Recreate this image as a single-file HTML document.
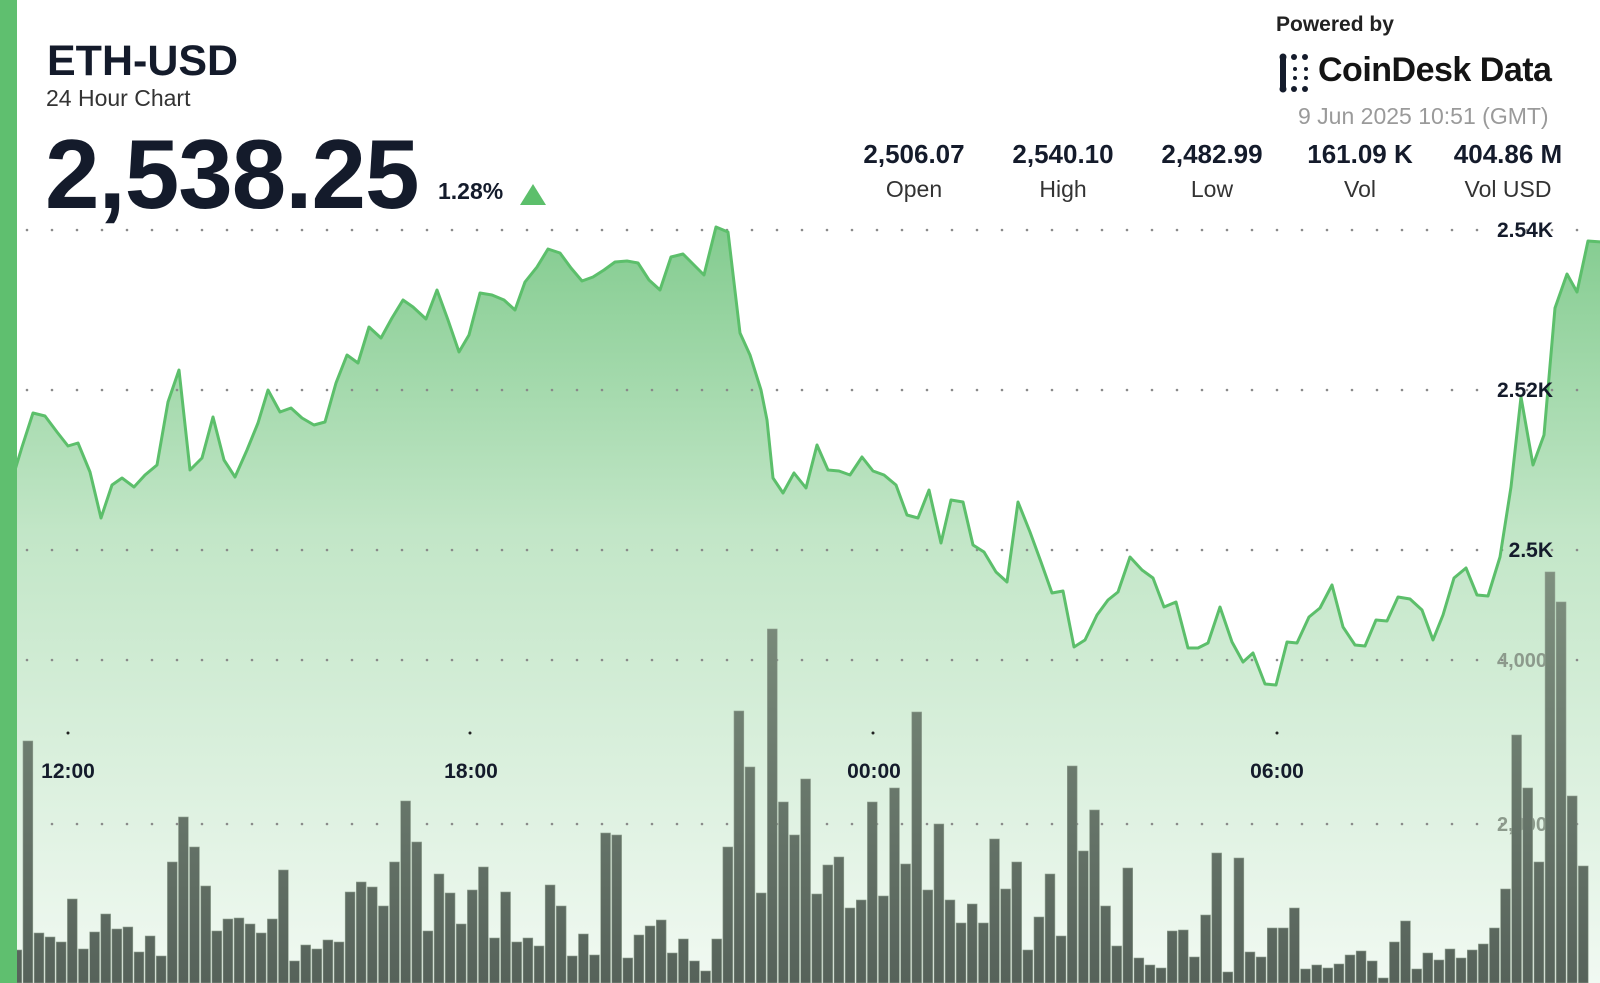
<!DOCTYPE html>
<html><head><meta charset="utf-8">
<style>
html,body{margin:0;padding:0;background:#fff;}
body{width:1600px;height:983px;overflow:hidden;position:relative;font-family:"Liberation Sans",sans-serif;color:#141b2b;}
.t{position:absolute;white-space:nowrap;}
</style></head><body>
<svg id="s" width="1600" height="983" style="position:absolute;left:0;top:0">
<defs>
<linearGradient id="ag" gradientUnits="userSpaceOnUse" x1="0" y1="230" x2="0" y2="983">
<stop offset="0" stop-color="#84cc90"/>
<stop offset="0.4" stop-color="#c2e6c7"/>
<stop offset="1" stop-color="#f1f9f2"/>
</linearGradient>
<linearGradient id="bg" gradientUnits="userSpaceOnUse" x1="0" y1="570" x2="0" y2="983">
<stop offset="0" stop-color="#7e907f"/>
<stop offset="1" stop-color="#56625a"/>
</linearGradient>
</defs>
<path id="area" fill="url(#ag)" stroke="none"/>
<g id="grid"></g>
<path id="line" fill="none" stroke="#5cbf6b" stroke-width="3" stroke-linejoin="round"/>
<text x="1522" y="667" text-anchor="middle" font-family="Liberation Sans" font-weight="bold" font-size="20" fill="#8c9a8c">4,000</text>
<text x="1522" y="831" text-anchor="middle" font-family="Liberation Sans" font-weight="bold" font-size="20" fill="#8c9a8c">2,000</text>
<g id="bars"></g>
<rect x="0" y="0" width="17" height="983" fill="#5fbf6f"/>
<g font-family="Liberation Sans" font-weight="bold" font-size="21" fill="#141b2b" text-anchor="end">
<text x="1553" y="237">2.54K</text>
<text x="1553" y="397">2.52K</text>
<text x="1553" y="557">2.5K</text>
</g>
<g font-family="Liberation Sans" font-weight="bold" font-size="21" fill="#141b2b" text-anchor="middle">
<text x="68" y="778">12:00</text>
<text x="471" y="778">18:00</text>
<text x="874" y="778">00:00</text>
<text x="1277" y="778">06:00</text>
</g>
<g fill="#222">
<circle cx="68" cy="733" r="1.5"/><circle cx="470" cy="733" r="1.5"/><circle cx="873" cy="733" r="1.5"/><circle cx="1277" cy="733" r="1.5"/>
</g>
<polygon points="520,205 546,205 533,184" fill="#5cbf6b"/>
<g fill="#141b2b">
<rect x="1280" y="56" width="6" height="34" rx="3"/>
<circle cx="1283" cy="57" r="3.5"/><circle cx="1283" cy="89" r="3.5"/>
<circle cx="1294" cy="57" r="3"/><circle cx="1305" cy="57" r="3"/>
<circle cx="1294" cy="89" r="3"/><circle cx="1305" cy="89" r="3"/>
<circle cx="1295" cy="69" r="2"/><circle cx="1295" cy="78" r="2"/>
<circle cx="1306" cy="69" r="2"/><circle cx="1306" cy="78" r="2"/>
</g>
</svg>

<div class="t" style="left:47px;top:37px;font-size:43px;font-weight:bold;">ETH-USD</div>
<div class="t" style="left:46px;top:85px;font-size:23px;color:#333;">24 Hour Chart</div>
<div class="t" style="left:45px;top:118px;font-size:98px;font-weight:bold;letter-spacing:-1px;">2,538.25</div>
<div class="t" style="left:438px;top:178px;font-size:23px;font-weight:bold;">1.28%</div>

<div class="t" style="left:1276px;top:13px;font-size:21px;font-weight:bold;color:#222;">Powered by</div>
<div class="t" style="left:1318px;top:51px;font-size:34px;font-weight:bold;color:#141414;letter-spacing:-0.5px;">CoinDesk Data</div>
<div class="t" style="left:1298px;top:103px;font-size:23px;color:#9a9a9a;">9 Jun 2025 10:51 (GMT)</div>

<div class="t" style="left:849px;top:139px;width:130px;text-align:center;font-size:26px;font-weight:bold;">2,506.07</div>
<div class="t" style="left:849px;top:176px;width:130px;text-align:center;font-size:23px;color:#333;">Open</div>
<div class="t" style="left:998px;top:139px;width:130px;text-align:center;font-size:26px;font-weight:bold;">2,540.10</div>
<div class="t" style="left:998px;top:176px;width:130px;text-align:center;font-size:23px;color:#333;">High</div>
<div class="t" style="left:1147px;top:139px;width:130px;text-align:center;font-size:26px;font-weight:bold;">2,482.99</div>
<div class="t" style="left:1147px;top:176px;width:130px;text-align:center;font-size:23px;color:#333;">Low</div>
<div class="t" style="left:1295px;top:139px;width:130px;text-align:center;font-size:26px;font-weight:bold;">161.09 K</div>
<div class="t" style="left:1295px;top:176px;width:130px;text-align:center;font-size:23px;color:#333;">Vol</div>
<div class="t" style="left:1443px;top:139px;width:130px;text-align:center;font-size:26px;font-weight:bold;">404.86 M</div>
<div class="t" style="left:1443px;top:176px;width:130px;text-align:center;font-size:23px;color:#333;">Vol USD</div>

<script>
var NS="http://www.w3.org/2000/svg";
var g=document.getElementById("grid");
[230,390,550,660,824].forEach(function(y){
 for(var x=27;x<1600;x+=25){var c=document.createElementNS(NS,"circle");c.setAttribute("cx",x);c.setAttribute("cy",y);c.setAttribute("r","1.3");c.setAttribute("fill","#8a8a8a");g.appendChild(c);}
});
var pts=[[15,470],[22,447],[33,413],[45,416],[57,432],[68,446],[78,443],[90,472],[101,518],[112,485],[122,478],[134,487],[145,475],[157,465],[168,402],[179,370],[190,470],[202,458],[213,417],[224,460],[235,477],[247,450],[258,423],[268,390],[280,412],[291,408],[302,418],[314,425],[325,422],[336,383],[347,355],[358,363],[369,327],[381,338],[392,318],[403,300],[413,307],[426,319],[437,290],[448,320],[459,352],[469,335],[480,293],[492,295],[504,300],[515,310],[525,282],[537,267],[548,249],[560,253],[571,268],[582,281],[593,277],[604,270],[615,262],[627,261],[638,263],[649,280],[660,290],[671,257],[683,254],[693,264],[704,275],[716,227],[728,232],[740,333],[750,355],[761,390],[767,420],[773,478],[783,493],[794,473],[806,488],[817,445],[828,470],[839,471],[850,475],[862,457],[873,471],[884,475],[896,485],[907,515],[918,518],[929,490],[941,543],[951,500],[963,502],[973,545],[984,552],[996,572],[1007,582],[1018,502],[1030,532],[1041,562],[1052,593],[1063,591],[1074,647],[1085,640],[1097,615],[1108,600],[1118,592],[1130,557],[1142,570],[1153,578],[1164,607],[1176,602],[1188,648],[1198,648],[1208,643],[1220,607],[1232,642],[1243,662],[1253,653],[1265,684],[1276,685],[1287,642],[1297,643],[1309,617],[1320,608],[1332,585],[1343,627],[1355,645],[1365,646],[1376,620],[1387,621],[1398,597],[1410,599],[1422,610],[1433,640],[1443,615],[1454,578],[1466,568],[1477,595],[1488,596],[1500,557],[1511,487],[1521,397],[1533,465],[1544,435],[1555,308],[1567,274],[1577,292],[1588,241],[1602,242]];
var d="M"+pts.map(function(p){return p[0]+","+p[1];}).join(" L");
document.getElementById("line").setAttribute("d",d);
document.getElementById("area").setAttribute("d",d+" L1602,983 L15,983 Z");
var tops=[950,741,933,937,942,899,949,932,914,929,927,952,936,956,862,817,847,886,931,919,918,924,933,919,870,961,945,949,940,942,892,882,887,906,862,801,842,931,874,893,924,890,867,938,892,942,938,946,885,906,956,934,955,833,835,958,935,926,920,953,939,961,971,939,847,711,767,893,629,802,835,779,894,865,857,908,900,802,896,788,864,712,890,824,900,923,904,923,839,889,862,950,917,874,936,766,851,810,906,946,868,958,965,968,931,930,957,915,853,972,858,952,957,928,928,908,969,965,968,964,955,951,961,978,942,921,969,953,960,949,958,950,944,928,889,735,788,862,572,602,796,866];
var b=document.getElementById("bars");
for(var k=0;k<tops.length;k++){var i=k-1;var x=23+11.11*i;var r=document.createElementNS(NS,"rect");r.setAttribute("x",x.toFixed(1));r.setAttribute("y",tops[k]);r.setAttribute("width","9.8");r.setAttribute("height",983-tops[k]);r.setAttribute("fill","url(#bg)");r.setAttribute("stroke","#8fa08f");r.setAttribute("stroke-width","0.6");b.appendChild(r);}
</script>
</body></html>
